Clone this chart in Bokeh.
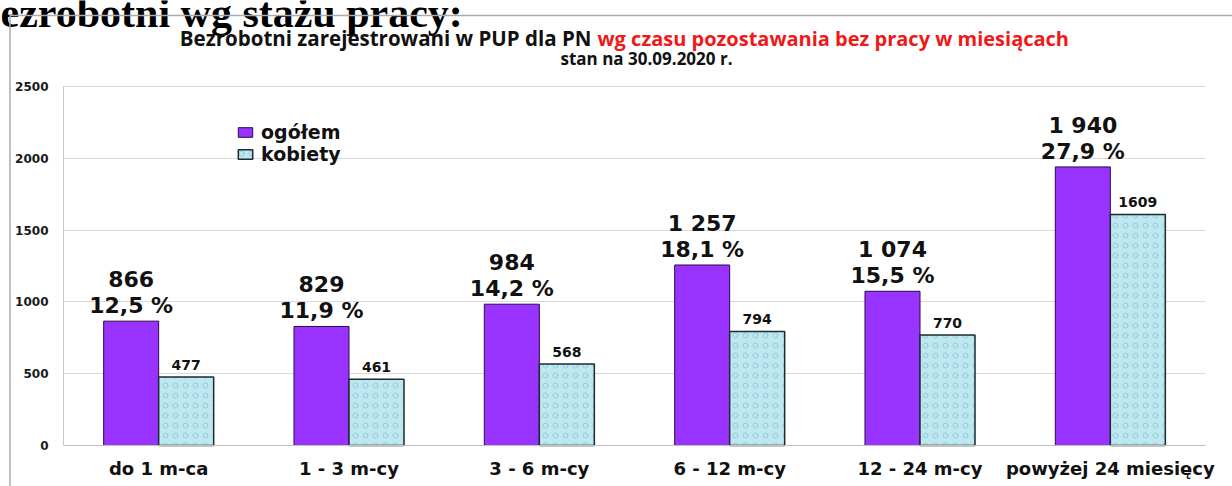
from bokeh.plotting import figure
from bokeh.models import (ColumnDataSource, Range1d, LabelSet, Label,
                          Legend, LegendItem, FixedTicker)
from bokeh.transform import dodge
from bokeh.core.properties import value
from bokeh.embed import file_html
from bokeh.resources import INLINE

# ---- data ----
categories = ["do 1 m-ca", "1 - 3 m-cy", "3 - 6 m-cy", "6 - 12 m-cy",
              "12 - 24 m-cy", "powyżej 24 miesięcy"]
ogolem = [866, 829, 984, 1257, 1074, 1940]
kobiety = [477, 461, 568, 794, 770, 1609]
udzial = ["12,5 %", "11,9 %", "14,2 %", "18,1 %", "15,5 %", "27,9 %"]
ogolem_labels = ["866", "829", "984", "1 257", "1 074", "1 940"]
kobiety_labels = ["477", "461", "568", "794", "770", "1609"]
y_ticks = [0, 500, 1000, 1500, 2000, 2500]

heading = "Bezrobotni wg stażu pracy:"
title_black = "Bezrobotni zarejestrowani w PUP dla PN"
title_red = "wg czasu pozostawania bez pracy w miesiącach"
subtitle = "stan na 30.09.2020 r."

# ---- layout (canvas pixels) ----
W, H = 1232, 486
PX_L, PX_R, PX_T, PX_B = 63, 1205, 86, 445     # plotting area of the chart
YMAX = 2500
NCAT = len(categories)
UX = (PX_R - PX_L) / NCAT
UY = (PX_B - PX_T) / YMAX


def xd(px):
    return (px - PX_L) / UX


def yd(py):
    return (PX_B - py) / UY


xpos = [i + 0.5 for i in range(NCAT)]
src = ColumnDataSource(dict(x=xpos, ogolem=ogolem, kobiety=kobiety,
                            udzial=udzial, olab=ogolem_labels, klab=kobiety_labels))

p = figure(x_range=Range1d(xd(0), xd(W)), y_range=Range1d(yd(H), yd(0)),
           width=W, height=H, output_backend="svg", toolbar_location=None,
           min_border=0, min_border_left=0, min_border_right=0,
           min_border_top=0, min_border_bottom=0)
p.background_fill_color = "white"
p.border_fill_color = "white"
p.outline_line_color = None

# chart frame border (left and top edges of the chart box)
BORDER = "#ABABAB"
p.segment(x0=[xd(9.5), xd(9.5)], y0=[yd(H - 0.5), yd(15)],
          x1=[xd(9.5), xd(W - 0.5)], y1=[yd(15), yd(15)],
          line_color=BORDER, line_width=1.5, level="overlay")

OFF = 0.1445
BW = 0.289
r1 = p.vbar(x=dodge("x", -OFF), top="ogolem", width=BW, source=src,
            fill_color="#9933FF", line_color="#2a0a48", line_width=1)
r2 = p.vbar(x=dodge("x", OFF), top="kobiety", width=BW, source=src,
            fill_color="#BFE7F0", line_color="#1c2b2e", line_width=1.5,
            hatch_pattern="ring", hatch_color="#86C6D6", hatch_alpha=0.8,
            hatch_scale=10, hatch_weight=1)

lab_font = value("DejaVu Sans")
p.add_layout(LabelSet(x=dodge("x", -OFF), y="ogolem", text="olab",
                      source=src, y_offset=34, text_align="center",
                      text_baseline="alphabetic", text_font=lab_font,
                      text_font_size="22px", text_font_style="bold", text_color="#111111"))
p.add_layout(LabelSet(x=dodge("x", -OFF), y="ogolem", text="udzial",
                      source=src, y_offset=8, text_align="center",
                      text_baseline="alphabetic", text_font=lab_font,
                      text_font_size="22px", text_font_style="bold", text_color="#111111"))
p.add_layout(LabelSet(x=dodge("x", OFF), y="kobiety", text="klab",
                      source=src, y_offset=7, text_align="center",
                      text_baseline="alphabetic", text_font=lab_font,
                      text_font_size="14px", text_font_style="bold", text_color="#111111"))

# axes (drawn inside the full-canvas frame)
p.xaxis.ticker = FixedTicker(ticks=xpos)
p.xaxis.major_label_overrides = {x: c for x, c in zip(xpos, categories)}
p.xaxis.fixed_location = 0
p.xaxis.bounds = (0, NCAT)
p.xaxis.major_label_text_font = "DejaVu Sans"
p.xaxis.major_label_text_font_size = "18px"
p.xaxis.major_label_text_font_style = "bold"
p.xaxis.major_label_text_color = "#111111"
p.xaxis.major_label_standoff = 12
p.xaxis.major_tick_out = 0
p.xaxis.major_tick_in = 0
p.xaxis.axis_line_color = "#BFBFBF"
p.xaxis.major_tick_line_color = None
p.xaxis.minor_tick_line_color = None

p.yaxis.ticker = FixedTicker(ticks=y_ticks)
p.yaxis.fixed_location = 0
p.yaxis.bounds = (0, YMAX)
p.yaxis.major_label_text_font = "DejaVu Sans"
p.yaxis.major_label_text_font_size = "12px"
p.yaxis.major_label_text_font_style = "bold"
p.yaxis.major_label_text_color = "#1a1a1a"
p.yaxis.major_label_standoff = 15
p.yaxis.major_tick_out = 0
p.yaxis.major_tick_in = 0
p.yaxis.axis_line_color = "#C8C8C8"
p.yaxis.major_tick_line_color = None
p.yaxis.minor_tick_line_color = None

p.xgrid.grid_line_color = None
p.ygrid.grid_line_color = "#D9D9D9"
p.ygrid.cross_bounds = (0, NCAT)

# legend (location = bottom-left corner, from frame bottom-left)
legend = Legend(items=[LegendItem(label="ogółem", renderers=[r1]),
                       LegendItem(label="kobiety", renderers=[r2])],
                location=(236, 321), padding=0, margin=0, spacing=0,
                border_line_color=None, background_fill_alpha=0,
                label_text_font="DejaVu Sans", label_text_font_size="19px",
                label_text_font_style="bold", label_text_color="#111111",
                glyph_width=18, glyph_height=12, label_standoff=7, label_height=20)
p.add_layout(legend)

# titles
p.add_layout(Label(x=xd(-28), y=yd(12), text=heading, text_align="left",
                   text_baseline="alphabetic", text_font="Liberation Serif",
                   text_font_size="42px", text_font_style="bold", text_color="black"))
p.add_layout(Label(x=xd(591), y=yd(37.7), text=title_black, text_align="right",
                   text_baseline="alphabetic", text_font="Open Sans",
                   text_font_size="20.5px", text_font_style="bold", text_color="#111111"))
p.add_layout(Label(x=xd(597), y=yd(37.7), text=title_red, text_align="left",
                   text_baseline="alphabetic", text_font="Open Sans",
                   text_font_size="20px", text_font_style="bold", text_color="#F01818"))
p.add_layout(Label(x=xd(646), y=yd(58), text=subtitle, text_align="center",
                   text_baseline="alphabetic", text_font="Open Sans",
                   text_font_size="17px", text_font_style="bold", text_color="#111111"))

open("out.html", "w").write(file_html(p, INLINE))
